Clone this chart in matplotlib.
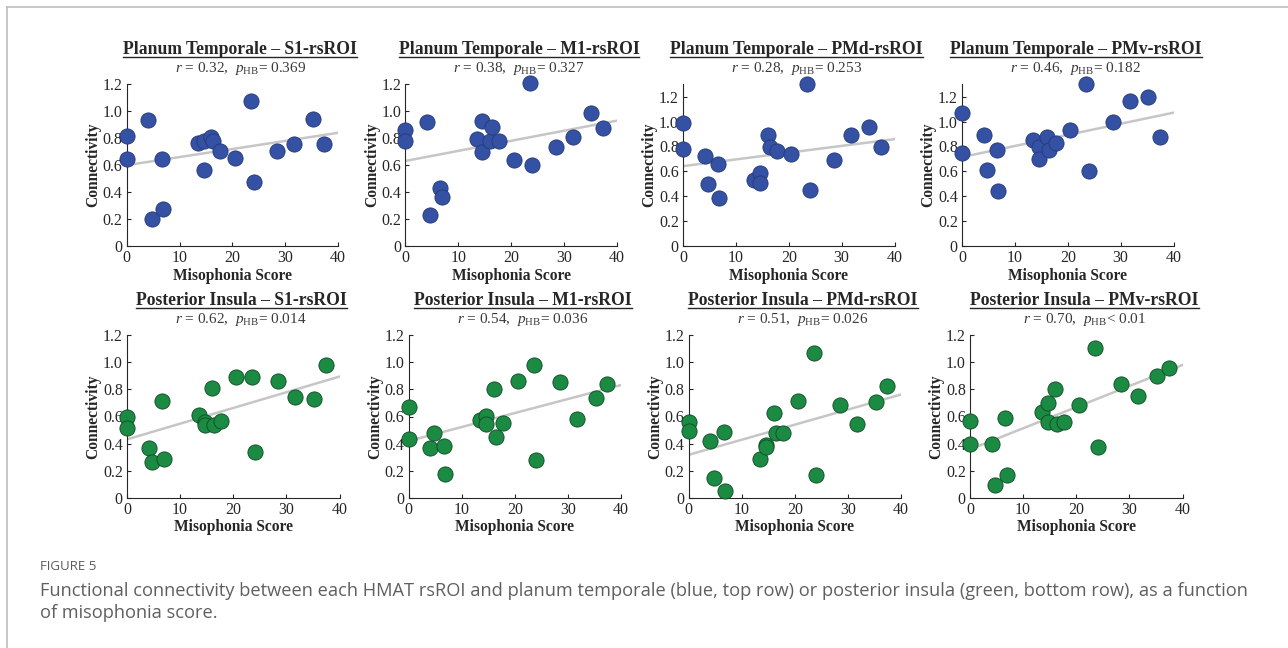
import numpy as np
import matplotlib.pyplot as plt
from matplotlib.lines import Line2D

plt.rcParams['font.family'] = ['Liberation Serif', 'DejaVu Serif']
plt.rcParams['mathtext.fontset'] = 'custom'
plt.rcParams['mathtext.rm'] = 'Liberation Serif'
plt.rcParams['mathtext.it'] = 'Liberation Serif:italic'
plt.rcParams['mathtext.bf'] = 'Liberation Serif:bold'

# misophonia score of each participant (shared by all panels)
score = [0, 0, 4.1, 4.7, 6.6, 6.9, 13.5, 14.6, 14.6, 16.0, 16.4, 17.7,
         20.5, 23.5, 24.0, 28.5, 31.7, 35.2, 37.4]

# planum temporale (top row)
pt_s1 = [0.82, 0.646, 0.936, 0.198, 0.644, 0.277, 0.767, 0.78, 0.567, 0.81,
         0.78, 0.705, 0.653, 1.074, 0.475, 0.708, 0.76, 0.946, 0.757]
pt_m1 = [0.86, 0.776, 0.918, 0.232, 0.434, 0.362, 0.791, 0.926, 0.699, 0.778,
         0.886, 0.776, 0.636, 1.21, 0.604, 0.736, 0.811, 0.99, 0.876]
pt_pmd = [0.985, 0.781, 0.72, 0.502, 0.658, 0.389, 0.534, 0.588, 0.51, 0.894,
          0.797, 0.76, 0.741, 1.302, 0.451, 0.693, 0.891, 0.956, 0.795]
pt_pmv = [1.07, 0.75, 0.892, 0.613, 0.769, 0.439, 0.855, 0.793, 0.702, 0.879,
          0.774, 0.825, 0.93, 1.30, 0.603, 0.994, 1.168, 1.197, 0.873]

# posterior insula (bottom row)
pi_s1 = [0.599, 0.513, 0.37, 0.261, 0.715, 0.288, 0.611, 0.559, 0.535, 0.811,
         0.535, 0.569, 0.895, 0.895, 0.338, 0.862, 0.742, 0.727, 0.978]
pi_m1 = [0.673, 0.434, 0.367, 0.476, 0.38, 0.175, 0.577, 0.604, 0.547, 0.806,
         0.451, 0.554, 0.865, 0.983, 0.278, 0.853, 0.584, 0.739, 0.84]
pi_pmd = [0.562, 0.491, 0.422, 0.142, 0.483, 0.052, 0.285, 0.393, 0.375, 0.626,
          0.476, 0.476, 0.714, 1.07, 0.167, 0.687, 0.547, 0.709, 0.825]
pi_pmv = [0.569, 0.394, 0.399, 0.094, 0.589, 0.17, 0.636, 0.702, 0.557, 0.801,
          0.547, 0.559, 0.688, 1.104, 0.372, 0.84, 0.754, 0.9, 0.956]

# fitted line: value at score 0 and at score 40
fit_start = [0.60, 0.631, 0.642, 0.715, 0.431, 0.419, 0.317, 0.357]
fit_end = [0.84, 0.93, 0.859, 1.072, 0.895, 0.833, 0.763, 0.981]

titles = ['Planum Temporale – S1-rsROI', 'Planum Temporale – M1-rsROI',
          'Planum Temporale – PMd-rsROI', 'Planum Temporale – PMv-rsROI',
          'Posterior Insula – S1-rsROI', 'Posterior Insula – M1-rsROI',
          'Posterior Insula – PMd-rsROI', 'Posterior Insula – PMv-rsROI']
r_vals = ['0.32', '0.38', '0.28', '0.46', '0.62', '0.54', '0.51', '0.70']
p_vals = ['= 0.369', '= 0.327', '= 0.253', '= 0.182',
          '= 0.014', '= 0.036', '= 0.026', '< 0.01']
y_top = [1.2, 1.2, 1.3, 1.3, 1.2, 1.2, 1.2, 1.2]

series = [pt_s1, pt_m1, pt_pmd, pt_pmv, pi_s1, pi_m1, pi_pmd, pi_pmv]
face = ['#3551a3'] * 4 + ['#1b8a42'] * 4
edge = ['#24397a'] * 4 + ['#0f4a24'] * 4

yticks = [0, 0.2, 0.4, 0.6, 0.8, 1.0, 1.2]
ytick_labels = ['0', '0.2', '0.4', '0.6', '0.8', '1.0', '1.2']
xticks = [0, 10, 20, 30, 40]

W, H = 1288, 648
fig = plt.figure(figsize=(W / 100, H / 100), dpi=100)

# axes boxes in pixels: left, top, width, height
lefts_px = [126.7, 405.3, 683, 962, 127, 408.7, 688.7, 970]
tops_px = [84.3] * 4 + [335.3] * 4
w_px = [211.5] * 4 + [212.5] * 4
h_px = [161.7] * 4 + [162.4] * 4

txt_col = '#262626'
titles_txt = []
for i in range(8):
    l, t, w, h = lefts_px[i], tops_px[i], w_px[i], h_px[i]
    ax = fig.add_axes([l / W, 1 - (t + h) / H, w / W, h / H])
    ax.plot([0, 40], [fit_start[i], fit_end[i]], color='#c6c6c6', lw=1.8, zorder=2)
    ax.scatter(score, series[i], s=120, c=face[i], edgecolors=edge[i],
               linewidths=0.6, zorder=3, clip_on=False)
    ax.set_xlim(0, 40)
    ax.set_ylim(0, y_top[i])
    ax.set_xticks(xticks)
    ax.set_yticks(yticks)
    ax.set_yticklabels(ytick_labels)
    ax.tick_params(direction='in', length=3, width=0.8, labelsize=11.5,
                   colors=txt_col)
    ax.tick_params(axis='y', pad=3)
    ax.tick_params(axis='x', pad=3)
    for s in ['top', 'right']:
        ax.spines[s].set_visible(False)
    for s in ['left', 'bottom']:
        ax.spines[s].set_color(txt_col)
        ax.spines[s].set_linewidth(0.8)
    ax.set_xlabel('Misophonia Score', fontsize=11.2, fontweight='bold',
                  color=txt_col, labelpad=1)
    ax.set_ylabel('Connectivity', fontsize=11.2, fontweight='bold',
                  color=txt_col, labelpad=1)

    cx = (l + w / 2 + 8) / W
    ty = 1 - (t - 30) / H
    tt = fig.text(cx, ty, titles[i], ha='center', va='baseline',
                  fontsize=12.7, fontweight='bold', color=txt_col)
    titles_txt.append((tt, ty))
    fig.text(cx, 1 - (t - 12.5) / H,
             r'$r$ = ' + r_vals[i] + r',  $p_{\mathrm{HB}}$' + p_vals[i],
             ha='center', va='baseline', fontsize=11, color='#3a3a3a')

# underline the panel titles
fig.canvas.draw()
rend = fig.canvas.get_renderer()
for tt, ty in titles_txt:
    bb = tt.get_window_extent(rend)
    yy = ty - 2.2 / H
    fig.add_artist(Line2D([bb.x0 / W, bb.x1 / W], [yy, yy], color=txt_col, lw=1.0))

# frame lines on the top and left edges
fig.add_artist(Line2D([7 / W, 1], [1 - 7 / H, 1 - 7 / H], color='#bdbdbd', lw=1.2))
fig.add_artist(Line2D([7 / W, 7 / W], [0, 1 - 7 / H], color='#bdbdbd', lw=1.2))

cap_font = ['Open Sans', 'DejaVu Sans']
fig.text(40 / W, 1 - 566 / H, 'FIGURE 5', family=cap_font, fontsize=9.5,
         color='#5a5a5a', va='center')
fig.text(40 / W, 1 - 591 / H,
         'Functional connectivity between each HMAT rsROI and planum temporale '
         '(blue, top row) or posterior insula (green, bottom row), as a function',
         family=cap_font, fontsize=13.15, color='#5f5f5f', va='center')
fig.text(40 / W, 1 - 613 / H, 'of misophonia score.', family=cap_font,
         fontsize=13.15, color='#5f5f5f', va='center')

fig.savefig('out.png', dpi=100)
